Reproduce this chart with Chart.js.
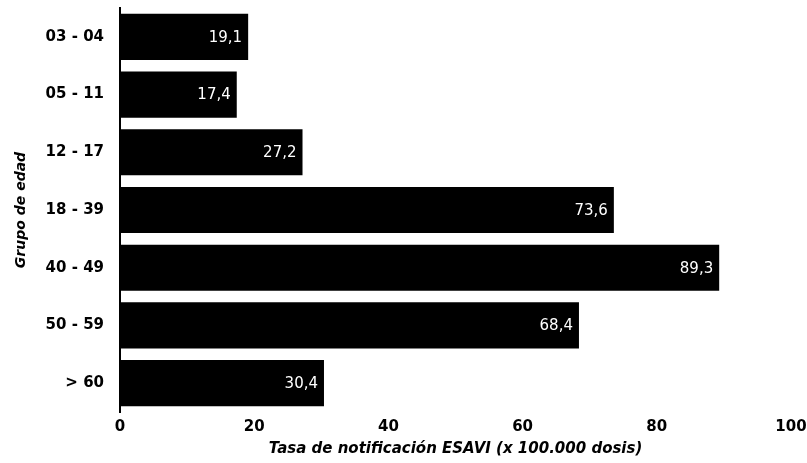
<!DOCTYPE html>
<html>
<head>
<meta charset="utf-8">
<script src="https://cdn.jsdelivr.net/npm/chart.js@4.4.1/dist/chart.umd.min.js"></script>
<style>
    html, body { margin: 0; padding: 0; background: #fff; }
    #wrap { width: 807px; height: 463px; }
</style>
</head>
<body>
<div id="wrap"><canvas id="esavi-chart"></canvas></div>
<script>
// Age groups and notification rates (per 100.000 doses)
const ageGroups = ['03 - 04', '05 - 11', '12 - 17', '18 - 39', '40 - 49', '50 - 59', '> 60'];
const rates = [19.1, 17.4, 27.2, 73.6, 89.3, 68.4, 30.4];
const xTicks = [0, 20, 40, 60, 80, 100];

const FONT = '"DejaVu Sans", Verdana, sans-serif';

// Draw the value inside the end of each bar, decimal comma
const barValueLabels = {
    id: 'barValueLabels',
    afterDatasetsDraw(chart) {
        const ctx = chart.ctx;
        const meta = chart.getDatasetMeta(0);
        ctx.save();
        ctx.fillStyle = '#ffffff';
        ctx.font = '15px ' + FONT;
        ctx.textAlign = 'right';
        ctx.textBaseline = 'middle';
        meta.data.forEach((bar, i) => {
            const text = rates[i].toFixed(1).replace('.', ',');
            ctx.fillText(text, bar.x - 6, bar.y + 1);
        });
        ctx.restore();
    }
};

new Chart(document.getElementById('esavi-chart').getContext('2d'), {
    type: 'bar',
    data: {
        labels: ageGroups,
        datasets: [{
            data: rates,
            backgroundColor: '#000000',
            borderWidth: 0,
            barPercentage: 0.8,
            categoryPercentage: 1.0
        }]
    },
    options: {
        indexAxis: 'y',
        responsive: true,
        maintainAspectRatio: false,
        animation: false,
        layout: {
            padding: { left: 0, right: 0, top: 8, bottom: 0 }
        },
        plugins: {
            legend: { display: false },
            tooltip: { enabled: false }
        },
        scales: {
            x: {
                min: 0,
                max: 100,
                afterBuildTicks: scale => {
                    scale.ticks = xTicks.map(v => ({ value: v }));
                },
                afterFit: scale => {
                    scale.height = 51;
                    // just enough room for the "100" label on the right
                    scale.paddingRight = 16;
                },
                grid: { display: false, drawTicks: false },
                border: { display: false },
                ticks: {
                    color: '#000',
                    padding: 6,
                    maxRotation: 0,
                    font: { family: FONT, size: 15, weight: 'bold' }
                },
                title: {
                    display: true,
                    text: 'Tasa de notificación ESAVI (x 100.000 dosis)',
                    color: '#000',
                    padding: { top: 0, bottom: 5 },
                    font: { family: FONT, size: 15, weight: 'bold', style: 'italic' }
                }
            },
            y: {
                afterFit: scale => {
                    scale.width = 120;
                    // keep the category band flush with the top/bottom of the plot
                    scale.paddingTop = 0;
                    scale.paddingBottom = 0;
                },
                grid: { display: false, drawTicks: false },
                border: { display: true, color: '#000', width: 2 },
                ticks: {
                    color: '#000',
                    padding: 16,
                    font: { family: FONT, size: 15, weight: 'bold' }
                },
                title: {
                    display: true,
                    text: 'Grupo de edad',
                    color: '#000',
                    padding: { top: 13, bottom: 0 },
                    font: { family: FONT, size: 14, weight: 'bold', style: 'italic' }
                }
            }
        }
    },
    plugins: [barValueLabels]
});
</script>
</body>
</html>
